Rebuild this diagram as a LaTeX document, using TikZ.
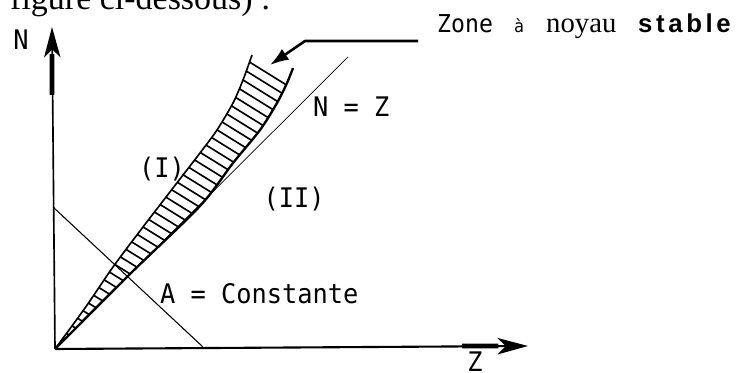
\documentclass[tikz,border=0pt]{standalone}
\usepackage{fontspec}
\setmainfont{Liberation Serif}
\newfontfamily\monofont{DejaVu Sans Mono}[FakeStretch=0.94]
\newfontfamily\boldsans{Liberation Sans}[LetterSpace=14]
\usetikzlibrary{arrows.meta, calc}
\tikzset{
    axis/.style={line width=1.4pt, -{Stealth[length=26pt, width=14pt, inset=7pt]}},
    axisbold/.style={line width=4pt},
    thinline/.style={line width=0.6pt},
    aline/.style={line width=0.9pt},
    hatch/.style={line width=1.4pt},
    leftedge/.style={line width=1.4pt},
    rightedge/.style={line width=2pt},
    lbl/.style={inner sep=0pt, font=\monofont\fontsize{23}{26}\selectfont},
    toplbl/.style={inner sep=0pt, anchor=base west},
    callout/.style={line width=2.2pt, line join=round, -{Latex[length=16pt, width=11pt]}},
}

\begin{document}
\begin{tikzpicture}[x=0.03cm, y=-0.03cm]
    \useasboundingbox (0,0) rectangle (737,373);
    \clip (0,0) rectangle (737,373);
    \node[toplbl, font=\fontsize{29}{32}\selectfont] (toptext) at (10,10) {figure ci-dessous) :};

    \coordinate (O) at (55,349);
    \coordinate (Ntip) at (52,27);
    \coordinate (Nbold) at (52,95);
    \coordinate (Ztip) at (528,346);
    \coordinate (Zbold) at (462,346);
    \coordinate (NZtop) at (348,57);
    \coordinate (Atop) at (53,207);
    \coordinate (Abot) at (203,347);

    \begin{scope}
        \clip plot[smooth] coordinates {(55,349) (85,308) (113,267) (143,227) (173,188) (200,153) (217,130) (233,103) (243,80) (252,55)}
            -- plot[smooth] coordinates {(293,68) (287,83) (277,103) (260,130) (233,163) (200,206) (130,274) (55,349)} -- cycle;
        \foreach \c in {0,11,...,420}
            \draw[hatch] (40,\c-68) -- (330,\c+112);
    \end{scope}
    \draw[leftedge] plot[smooth] coordinates {(55,349) (85,308) (113,267) (143,227) (173,188) (200,153) (217,130) (233,103) (243,80) (252,55)};
    \draw[rightedge] plot[smooth] coordinates {(55,349) (130,274) (200,206) (233,163) (260,130) (277,103) (287,83) (293,68)};

    \draw[thinline] (O) -- (NZtop);
    \draw[aline] (Atop) -- (Abot);

    \draw[axis] (O) -- (Ntip);
    \draw[axisbold] (Nbold) -- ($(Ntip)!0.4!(Nbold)$);
    \draw[axis, line width=1.8pt] (O) -- (Ztip);
    \draw[axisbold] (Zbold) -- ($(Ztip)!0.45!(Zbold)$);

    \node[lbl] (nlbl) at (21,40) {N};
    \node[lbl] (zlbl) at (475,362) {Z};
    \node[lbl, anchor=base west] (nzlbl) at (313,117) {N = Z};
    \node[lbl] (zone1) at (162,169) {(I)};
    \node[lbl] (zone2) at (294,199) {(II)};
    \node[lbl, anchor=base west] (albl) at (160,303) {A = Constante};

    \node[toplbl, font=\monofont\fontsize{21}{24}\selectfont] (zoneword) at (437,33) {Zone};
    \node[toplbl, font=\monofont\fontsize{15}{18}\selectfont] (aword) at (514,33) {à};
    \node[toplbl, font=\fontsize{24.5}{27}\selectfont] (noyauword) at (546,33) {noyau};
    \node[toplbl, font=\boldsans\bfseries\fontsize{22}{25}\selectfont] (stableword) at (638,33) {stable};
    \coordinate (cstart) at (418,41);
    \coordinate (celbow) at (305,41);
    \coordinate (ctip) at (270,65);
    \draw[callout] (cstart) -- (celbow) -- (ctip);
\end{tikzpicture}
\end{document}
